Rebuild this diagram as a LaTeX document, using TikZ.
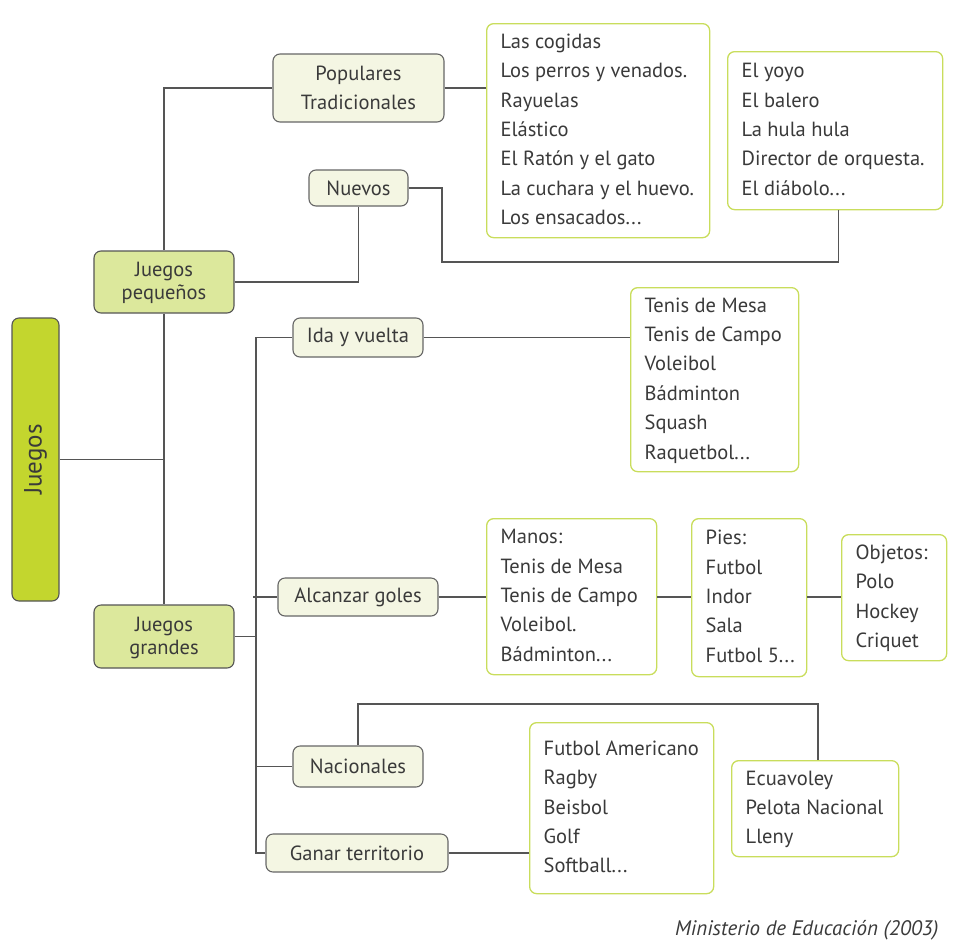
\documentclass[tikz,border=0pt]{standalone}
\usepackage{fontspec}
\setmainfont{PT Sans}
\definecolor{rootfill}{HTML}{C3D62E}
\definecolor{midfill}{HTML}{DCE89C}
\definecolor{leaffill}{HTML}{F4F6E3}
\definecolor{listline}{HTML}{C9DD5C}
\definecolor{wire}{HTML}{555555}
\definecolor{ink}{HTML}{3A3A3A}
% left-aligned list of fixed width, one entry per row
\newcommand{\itemlist}[2]{\raisebox{-1.5pt}{\makebox[#1][l]{\begin{tabular}{@{}l@{}}#2\end{tabular}}}}
\tikzset{
  base/.style={rounded corners=7pt, line width=1.1pt, text=ink, font=\fontsize{20.5}{23}\selectfont, inner sep=0pt},
  rootbox/.style={base, draw=wire, fill=rootfill},
  midbox/.style={base, draw=wire, fill=midfill, align=center},
  leafbox/.style={base, draw=wire!90, fill=leaffill, align=center},
  listbox/.style={base, draw=listline, fill=white, line width=1.3pt,
    inner xsep=14pt, anchor=north west, font=\fontsize{20.5}{29.4}\selectfont},
  wires/.style={draw=wire, line width=1.1pt}
}
\begin{document}
\begin{tikzpicture}[x=1pt,y=-1pt]
\useasboundingbox (0,0) rectangle (957,945);

% root
\node[rootbox, minimum width=47, minimum height=283] (j) at (35.5,459.5) {};
\node[rotate=90, text=ink, font=\fontsize{25}{28}\selectfont] (jt) at (j.center) {Juegos};

% first level
\node[midbox, minimum width=140, minimum height=62] (jp) at (164,282) {\rule{0pt}{17pt}Juegos\\pequeños};
\node[midbox, minimum width=140, minimum height=63] (jg) at (164,636.5) {\rule{0pt}{17pt}Juegos\\grandes};

% second level
\node[leafbox, minimum width=171, minimum height=68, font=\fontsize{20.5}{29}\selectfont] (pop) at (358.5,88) {Populares\\Tradicionales};
\node[leafbox, minimum width=99, minimum height=36] (nu) at (358.5,188) {Nuevos};
\node[leafbox, minimum width=130, minimum height=39] (ida) at (358,337.5) {Ida y vuelta};
\node[leafbox, minimum width=160, minimum height=38] (ag) at (358,597) {Alcanzar goles};
\node[leafbox, minimum width=130, minimum height=41] (na) at (358,766.5) {Nacionales};
\node[leafbox, minimum width=182, minimum height=38] (gt) at (357,853) {Ganar territorio};

% example lists
\node[listbox, minimum height=214] (l1) at (486,23)
  {\itemlist{195pt}{Las cogidas\\Los perros y venados.\\Rayuelas\\Elástico\\El Ratón y el gato\\La cuchara y el huevo.\\Los ensacados...}};
\node[listbox, minimum height=158] (l2) at (727,51)
  {\itemlist{187pt}{El yoyo\\El balero\\La hula hula\\Director de orquesta.\\El diábolo...}};
\node[listbox, minimum height=184] (l3) at (630,287)
  {\itemlist{140pt}{Tenis de Mesa\\Tenis de Campo\\Voleibol\\Bádminton\\Squash\\Raquetbol...}};
\node[listbox, minimum height=156] (ma) at (486,518)
  {\itemlist{142pt}{Manos:\\Tenis de Mesa\\Tenis de Campo\\Voleibol.\\Bádminton...}};
\node[listbox, minimum height=158] (pi) at (691,518)
  {\itemlist{87pt}{Pies:\\Futbol\\Indor\\Sala\\Futbol 5...}};
\node[listbox, minimum height=126] (ob) at (841,534)
  {\itemlist{77pt}{Objetos:\\Polo\\Hockey\\Criquet}};
\node[listbox, minimum height=171] (fa) at (529,722)
  {\itemlist{156pt}{Futbol Americano\\Ragby\\Beisbol\\Golf\\Softball...}};
\node[listbox, minimum height=96] (ec) at (731,760)
  {\itemlist{139pt}{Ecuavoley\\Pelota Nacional\\Lleny}};

% source
\node[anchor=east, text=ink, font=\fontsize{21}{24}\selectfont\itshape] (src) at (942,930) {Ministerio de Educación (2003)};

% helper points
\coordinate (tt) at (256,337.5);
\coordinate (tb) at (256,853);
\coordinate (nv) at (442,262);
\coordinate (nt) at (818,704);

% connectors
\draw[wires] (j.east) -- (j.east -| jp.south);
\draw[wires] (jp.south) -- (jg.north);
\draw[wires] (jp.north) |- (pop.west);
\draw[wires] (pop.east) -- (pop.east -| l1.west);
\draw[wires] (jp.east) -| (nu.south);
\draw[wires] (nu.east) -| (nv) -| ([xshift=3.5pt]l2.south);
\draw[wires] (jg.east) -- (jg.east -| tt);
\draw[wires] (ida.west) -- (tt) -- (tb) -- (gt.west);
\draw[wires] ([xshift=-3pt]tt |- ag.west) -- (ag.west);
\draw[wires] (tt |- na.west) -- (na.west);
\draw[wires] (ida.east) -- (ida.east -| l3.west);
\draw[wires] (ag.east) -- (ag.east -| ma.west);
\draw[wires] (ma.east |- ag.east) -- (ag.east -| pi.west);
\draw[wires] (pi.east |- ag.east) -- (ag.east -| ob.west);
\draw[wires] (na.north) |- (nt) -- (nt |- ec.north);
\draw[wires] (gt.east) -- (gt.east -| fa.west);
\end{tikzpicture}
\end{document}
